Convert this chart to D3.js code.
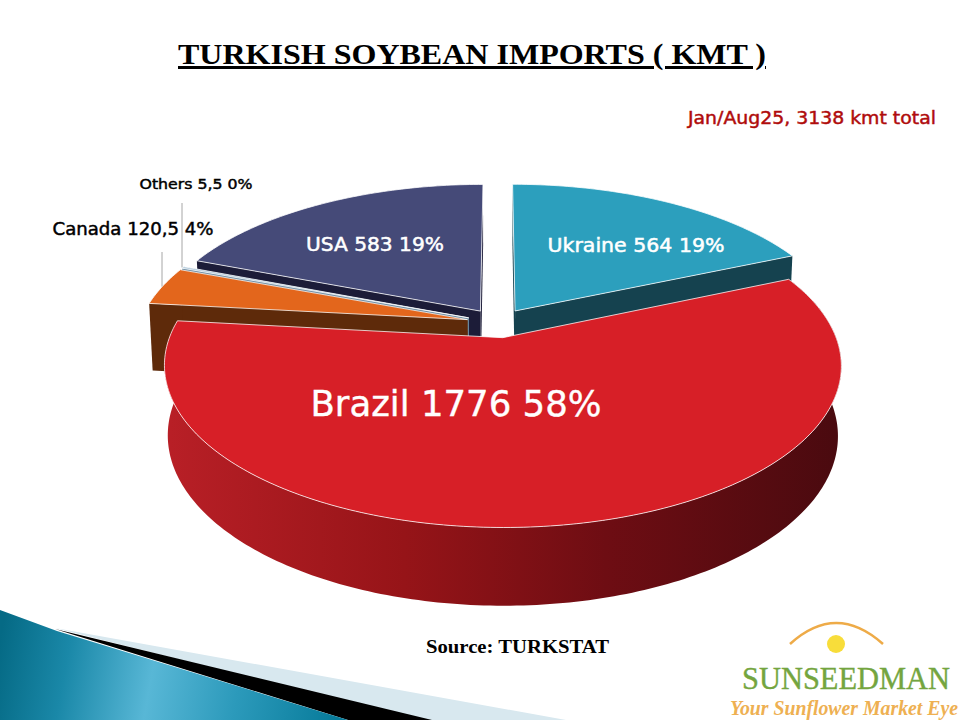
<!DOCTYPE html>
<html><head><meta charset="utf-8">
<script src="https://cdn.jsdelivr.net/npm/d3@7/dist/d3.min.js"></script>
<style>html,body{margin:0;padding:0;background:#fff}svg{display:block}</style>
</head><body><div id="c"></div>
<script>
const categories = ["Ukraine","Brazil","Canada","Others","USA"];
const values = [564,1776,120.5,5.5,583];
const valueLabels = ["564","1776","120,5","5,5","583"];
const shares = ["19%","58%","4%","0%","19%"];
const topColors = ["#2c9fbd","#d71f27","#e3661c","#a9c4d8","#454a78"];
const wallColors = ["#15424f","#8a1218","#5e2a0a","#6f8da3","#1c1c38"];
const title = "TURKISH SOYBEAN IMPORTS ( KMT )";
const note = "Jan/Aug25, 3138 kmt total";
const source = "Source: TURKSTAT";

const W=960,H=720;
const svg=d3.select("#c").append("svg").attr("width",W).attr("height",H);
const defs=svg.append("defs");

// decoration bottom-left
const g1=defs.append("linearGradient").attr("id","deco").attr("gradientUnits","userSpaceOnUse")
  .attr("x1",0).attr("y1",640).attr("x2",340).attr("y2",700);
[[0,"#056a85"],[.2,"#1a88a8"],[.45,"#58b7d6"],[.7,"#2c9abb"],[1,"#077b9a"]].forEach(s=>g1.append("stop").attr("offset",s[0]).attr("stop-color",s[1]));
const poly=p=>"M"+p.map(q=>q.join(",")).join("L")+"Z";
svg.append("path").attr("d",poly([[55,628],[566,720],[420,720]])).attr("fill","#d8e8ef");
svg.append("path").attr("d",poly([[55,629],[432,720],[348,720]])).attr("fill","#000");
svg.append("path").attr("d",poly([[0,610],[57,631],[348,720],[0,720]])).attr("fill","url(#deco)");

// perspective projection of the pie plane
const cx=498,cy=323,rx=328,ry=152,b=0.17,explode=0.096;
const top3=(X,Y)=>{const s=1/(1-b*Y);return [cx+rx*X*s,cy+ry*Y*s];};
const bot3=(X,Y)=>{const s=1/(1-b*Y);return [cx+rx*0.99*X*s,cy+68+ry*1.05*Y*s];};
const line=d3.line().curve(d3.curveLinear);

const arcs=d3.pie().sort(null).value(d=>d)(values);
const off=a=>{const m=(a.startAngle+a.endAngle)/2;return [explode*Math.sin(m),-explode*Math.cos(m)];};
const rim=(a,proj)=>{
  const [ox,oy]=off(a);
  const n=Math.max(2,Math.ceil((a.endAngle-a.startAngle)*60));
  return d3.range(n+1).map(i=>{
    const t=a.startAngle+(a.endAngle-a.startAngle)*i/n;
    return proj(ox+Math.sin(t),oy-Math.cos(t));
  });
};
const apex=(a,proj)=>{const [ox,oy]=off(a);return proj(ox,oy);};

// Brazil wall gradient
const g2=defs.append("linearGradient").attr("id","wall").attr("gradientUnits","userSpaceOnUse")
  .attr("x1",170).attr("y1",0).attr("x2",840).attr("y2",0);
[[0,"#b81f26"],[.35,"#961418"],[.65,"#6e0d13"],[1,"#4a0a0f"]].forEach(s=>g2.append("stop").attr("offset",s[0]).attr("stop-color",s[1]));

function drawSlice(i){
  const a=arcs[i],T=rim(a,top3),B=rim(a,bot3),at=apex(a,top3),ab=apex(a,bot3);
  const G=svg.append("g").attr("class","slice");
  const fill=i===1?"url(#wall)":wallColors[i];
  if(i===1){
    G.append("path").attr("d",line(T.concat(B.slice().reverse()))+"Z").attr("fill",fill);
  } else {
    G.append("path").attr("d",line([at,T[0],B[0],ab])+"Z").attr("fill",fill);
    G.append("path").attr("d",line([at,T[T.length-1],B[B.length-1],ab])+"Z").attr("fill",fill);
  }
  G.append("path").attr("d",line([at].concat(T))+"Z").attr("fill",topColors[i])
    .attr("stroke","#fff").attr("stroke-opacity",.85).attr("stroke-width",.9).attr("stroke-linejoin","round");
}
[0,4,3,2,1].forEach(drawSlice);

// leader lines
const cornerC=rim(arcs[2],top3), cornerO=rim(arcs[3],top3);
const mid=p=>[(p[0][0]+p[p.length-1][0])/2,(p[0][1]+p[p.length-1][1])/2];
const mc=mid(cornerC), mo=mid(cornerO);
svg.append("line").attr("x1",162).attr("x2",162).attr("y1",252).attr("y2",mc[1]).attr("stroke","#a6a6a6");
svg.append("line").attr("x1",182).attr("x2",182).attr("y1",203).attr("y2",mo[1]).attr("stroke","#a6a6a6");

// text
const lab=i=>`${categories[i]} ${valueLabels[i]} ${shares[i]}`;
const F="'DejaVu Sans',sans-serif";
const text=(s,x,y,size,fill,o={})=>svg.append("text").attr("x",x).attr("y",y)
  .attr("font-size",size).attr("fill",fill).attr("font-family",o.f||F).attr("font-weight",o.w||"normal")
  .attr("font-style",o.st||"normal").attr("text-anchor",o.a||"middle").attr("textLength",o.len||null)
  .attr("lengthAdjust","spacingAndGlyphs").attr("stroke",o.sw?fill:null).attr("stroke-width",o.sw||null)
  .style("text-decoration",o.d||null).text(s);
const S="'Liberation Serif',serif";
text(title,178,64,30,"#000",{f:S,w:"bold",a:"start",d:"underline",len:588});
text(note,688,124,17,"#b00c0c",{a:"start",len:248,sw:.45});
text(lab(0),636,252,19,"#fff",{len:177,sw:.5});
text(lab(4),375,251,19,"#fff",{len:138,sw:.5});
text(lab(1),456,416,36,"#fff",{len:291,sw:.4});
text(lab(2),133,235,17,"#000",{len:161,sw:.45});
text(lab(3),196,189,14,"#000",{len:113,sw:.45});
text(source,426,653,18,"#000",{f:S,w:"bold",a:"start",len:183});

// logo
const logoArc=d3.path();logoArc.moveTo(790,644);logoArc.quadraticCurveTo(836,602,883,644);
svg.append("path").attr("d",logoArc.toString()).attr("fill","none").attr("stroke","#eeab48").attr("stroke-width",2.5);
svg.append("circle").attr("cx",836).attr("cy",644).attr("r",9).attr("fill","#f8dd3a");
text("SUNSEEDMAN",742,689,32,"#74a53f",{f:S,a:"start",len:208,sw:.4});
text("Your Sunflower Market Eye",730,715,20,"#eeb052",{f:S,w:"bold",st:"italic",a:"start",len:228});
</script></body></html>
